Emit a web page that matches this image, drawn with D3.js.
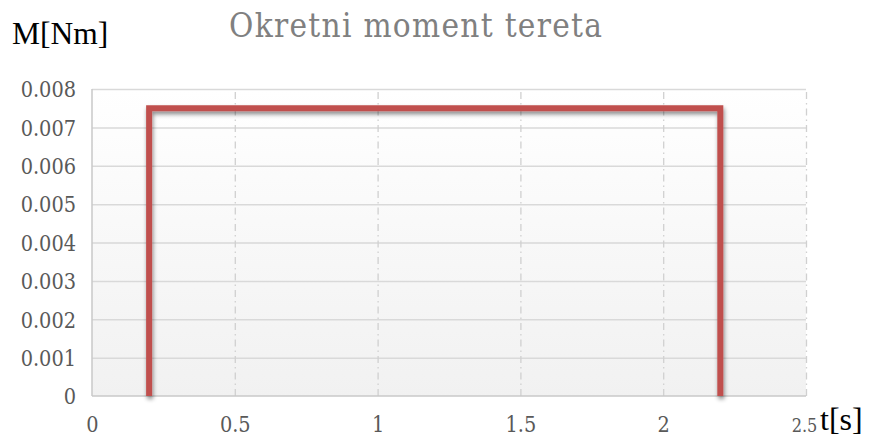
<!DOCTYPE html>
<html>
<head>
<meta charset="utf-8">
<script src="https://cdn.jsdelivr.net/npm/d3@7"></script>
<style>
  html, body { margin: 0; padding: 0; background: #fff; }
  svg { display: block; }
</style>
</head>
<body>
<svg id="chart" width="874" height="441"></svg>
<script>
// Load torque profile: step on at 0.2 s, off at 2.2 s
const timeSeconds = [0.2, 0.2, 2.2, 2.2];
const torqueNm = [0, 0.0075, 0.0075, 0];

const xTicks = [0, 0.5, 1, 1.5, 2, 2.5];
const yTicks = [0, 0.001, 0.002, 0.003, 0.004, 0.005, 0.006, 0.007, 0.008];
const xTickLabels = ["0", "0.5", "1", "1.5", "2", "2.5"];
const yTickLabels = ["0", "0.001", "0.002", "0.003", "0.004", "0.005", "0.006", "0.007", "0.008"];

const titleText = "Okretni moment tereta";
const yAxisTitle = "M[Nm]";
const xAxisTitle = "t[s]";

const tickFont = "'DejaVu Serif Condensed', 'DejaVu Serif', serif";

const svg = d3.select("#chart");
const plotLeft = 92, plotRight = 806, plotTop = 89, plotBottom = 396;

const x = d3.scaleLinear().domain([0, 2.5]).range([plotLeft, plotRight]);
const y = d3.scaleLinear().domain([0, 0.008]).range([plotBottom, plotTop]);

const defs = svg.append("defs");
const grad = defs.append("linearGradient")
  .attr("id", "plotBg").attr("x1", 0).attr("y1", 0).attr("x2", 0).attr("y2", 1);
grad.append("stop").attr("offset", "0%").attr("stop-color", "#ffffff");
grad.append("stop").attr("offset", "100%").attr("stop-color", "#f1f1f1");

const shadow = defs.append("filter").attr("id", "lineShadow")
  .attr("x", "-5%").attr("y", "-5%").attr("width", "110%").attr("height", "115%");
shadow.append("feDropShadow")
  .attr("dx", 1).attr("dy", 3).attr("stdDeviation", 2)
  .attr("flood-color", "#000").attr("flood-opacity", 0.45);

// Plot area background
svg.append("rect")
  .attr("x", plotLeft).attr("y", plotTop)
  .attr("width", plotRight - plotLeft).attr("height", plotBottom - plotTop)
  .attr("fill", "url(#plotBg)");

// Horizontal gridlines
svg.append("g")
  .attr("transform", `translate(${plotLeft},0)`)
  .call(d3.axisLeft(y).tickValues(yTicks.filter(d => d > 0)).tickSize(-(plotRight - plotLeft)).tickFormat(""))
  .call(g => g.select(".domain").remove())
  .call(g => g.selectAll("line").attr("stroke", "#d9d9d9").attr("stroke-width", 1.5));

// Vertical gridlines (dash-dot)
svg.append("g")
  .attr("transform", `translate(0,${plotBottom})`)
  .call(d3.axisBottom(x).tickValues(xTicks.filter(d => d > 0)).tickSize(-(plotBottom - plotTop)).tickFormat(""))
  .call(g => g.select(".domain").remove())
  .call(g => g.selectAll("line").attr("stroke", "#d0d0d0").attr("stroke-width", 1.3)
    .attr("stroke-dasharray", "7,4,1.5,4"));

// Axis lines
svg.append("line")
  .attr("x1", plotLeft).attr("x2", plotLeft).attr("y1", plotTop).attr("y2", plotBottom)
  .attr("stroke", "#c8c8c8").attr("stroke-width", 1.5);
svg.append("line")
  .attr("x1", plotLeft).attr("x2", plotRight).attr("y1", plotBottom).attr("y2", plotBottom)
  .attr("stroke", "#c8c8c8").attr("stroke-width", 1.5);

// Y tick labels
const yAxis = svg.append("g")
  .attr("transform", `translate(${plotLeft},0)`)
  .call(d3.axisLeft(y).tickValues(yTicks).tickSize(0).tickPadding(16)
    .tickFormat((d, i) => yTickLabels[i]));
yAxis.select(".domain").remove();
yAxis.selectAll("text")
  .attr("fill", "#595959")
  .attr("font-family", tickFont)
  .attr("font-size", 21.5)
  .attr("dy", "0.36em");

// X tick labels
const xAxis = svg.append("g")
  .attr("transform", `translate(0,${plotBottom})`)
  .call(d3.axisBottom(x).tickValues(xTicks).tickSize(0).tickPadding(21)
    .tickFormat((d, i) => xTickLabels[i]));
xAxis.select(".domain").remove();
xAxis.selectAll("text")
  .attr("fill", "#595959")
  .attr("font-family", tickFont)
  .attr("font-size", (d, i) => i === xTicks.length - 1 ? 18 : 21.5)
  .attr("dx", (d, i) => i === xTicks.length - 1 ? -2 : 0)
  .attr("dy", (d, i) => i === xTicks.length - 1 ? "0.85em" : "0.71em");

// Torque line
const line = d3.line()
  .x((d, i) => x(timeSeconds[i]))
  .y(d => y(d));
svg.append("path")
  .datum(torqueNm)
  .attr("d", line)
  .attr("fill", "none")
  .attr("stroke", "#c0504d")
  .attr("stroke-width", 6)
  .attr("stroke-linejoin", "miter")
  .attr("filter", "url(#lineShadow)");

// Title
svg.append("text")
  .attr("x", 229).attr("y", 37)
  .attr("font-family", tickFont)
  .attr("font-size", 33)
  .attr("fill", "#808080")
  .attr("textLength", 373)
  .attr("lengthAdjust", "spacing")
  .text(titleText);

// Axis titles
svg.append("text")
  .attr("x", 12).attr("y", 44)
  .attr("font-family", "'Liberation Serif', 'Times New Roman', serif")
  .attr("font-size", 31.5)
  .attr("fill", "#000")
  .text(yAxisTitle);

svg.append("text")
  .attr("x", 820).attr("y", 430)
  .attr("font-family", "'Liberation Serif', 'Times New Roman', serif")
  .attr("font-size", 32)
  .attr("fill", "#000")
  .text(xAxisTitle);
</script>
</body>
</html>
